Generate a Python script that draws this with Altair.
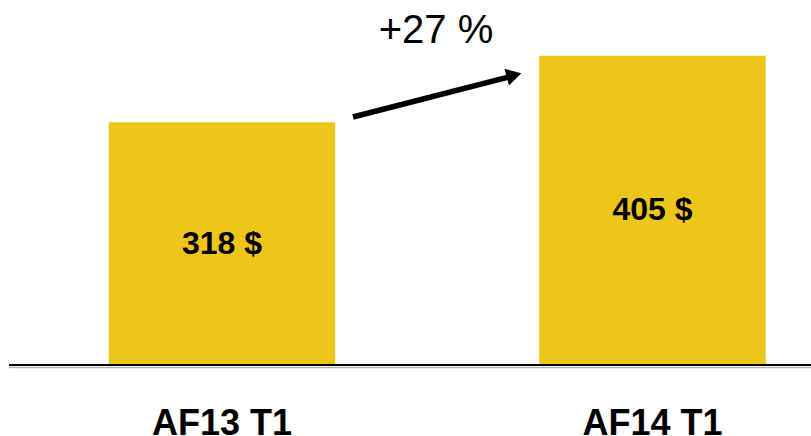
import altair as alt
import pandas as pd

# Quarterly figures
quarters = ["AF13 T1", "AF14 T1"]
revenue = [318, 405]
value_labels = [f"{v} $" for v in revenue]

growth = round((revenue[1] / revenue[0] - 1) * 100)
growth_label = f"+{growth} %"

bars_df = pd.DataFrame({"quarter": quarters, "revenue": revenue, "label": value_labels})
bars_df["mid"] = bars_df["revenue"] / 2

BAR_COLOR = "#EEC51B"
FONT = "Liberation Sans"
Y_MAX = 478

x_enc = alt.X(
    "quarter:N",
    sort=quarters,
    scale=alt.Scale(range=[0, 874.5], paddingInner=0.474, paddingOuter=0.2526),
    axis=alt.Axis(
        title=None,
        domain=False,
        ticks=False,
        labelAngle=0,
        labelFont=FONT,
        labelFontSize=36,
        labelFontWeight="bold",
        labelColor="#000000",
        labelBaseline="alphabetic",
        labelPadding=69,
    ),
)
y_scale = alt.Scale(domain=[0, Y_MAX], nice=False, zero=True)

base = alt.Chart(bars_df)

bars = base.mark_bar(color=BAR_COLOR).encode(
    x=x_enc,
    y=alt.Y("revenue:Q", scale=y_scale, axis=None),
)

values = base.mark_text(
    font=FONT, fontSize=32, fontWeight="bold", color="#000000", baseline="middle"
).encode(
    x=x_enc,
    y=alt.Y("mid:Q", scale=y_scale, axis=None),
    text="label:N",
)

# Axis baseline with a soft grey shadow underneath
shadow = alt.Chart(pd.DataFrame({"v": [0]})).mark_rule(
    color="#b5b5b5", strokeWidth=1.5, yOffset=2.5
).encode(x=alt.value(9), x2=alt.value(811), y=alt.Y("v:Q", scale=y_scale, axis=None))

baseline = alt.Chart(pd.DataFrame({"v": [0]})).mark_rule(
    color="#000000", strokeWidth=2.2
).encode(x=alt.value(9), x2=alt.value(811), y=alt.Y("v:Q", scale=y_scale, axis=None))

# Growth arrow between the two bars
arrow_df = pd.DataFrame({"y0": [324.8], "y1": [377.5], "yh": [379.5]})
shaft = alt.Chart(arrow_df).mark_rule(color="#000000", strokeWidth=5.5).encode(
    x=alt.value(353),
    x2=alt.value(510),
    y=alt.Y("y0:Q", scale=y_scale, axis=None),
    y2="y1:Q",
)
head = alt.Chart(arrow_df).mark_point(
    shape="triangle-right", filled=True, color="#000000", opacity=1, size=300, angle=345.3
).encode(x=alt.value(514), y=alt.Y("yh:Q", scale=y_scale, axis=None))

growth_text = alt.Chart(pd.DataFrame({"t": [growth_label], "y": [421.5]})).mark_text(
    font=FONT, fontSize=40, color="#000000", baseline="alphabetic", align="center"
).encode(x=alt.value(436), y=alt.Y("y:Q", scale=y_scale, axis=None), text="t:N")

chart = (
    alt.layer(bars, values, shadow, baseline, shaft, head, growth_text)
    .properties(
        width=811,
        height=365,
        padding={"left": 0, "top": 0, "right": 0, "bottom": 71},
        autosize=alt.AutoSizeParams(type="none"),
        background="#ffffff",
    )
    .configure_view(stroke=None)
)

chart.save("out.html", embed_options={"renderer": "svg", "actions": False})
